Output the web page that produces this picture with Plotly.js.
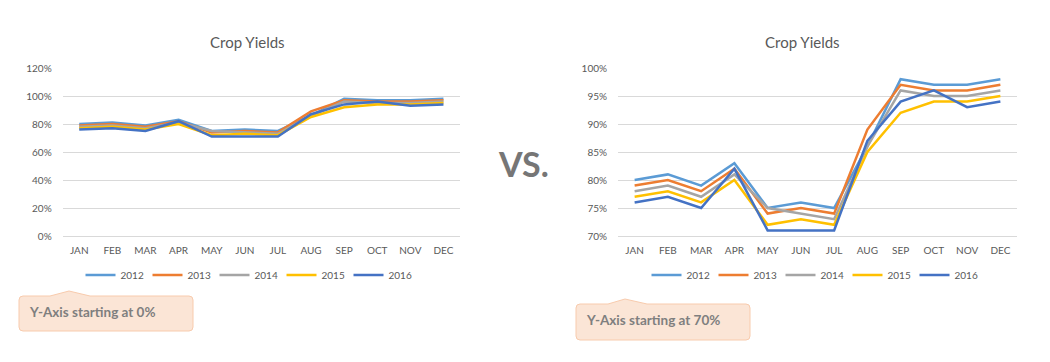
<!DOCTYPE html>
<html>
<head>
<meta charset="utf-8">
<script src="https://cdn.plot.ly/plotly-3.0.1.min.js"></script>
<style>
  html, body { margin: 0; padding: 0; background: #ffffff; }
  #chart { width: 1050px; height: 362px; }
</style>
</head>
<body>
<div id="chart"></div>
<script>
// ---- data ----
const months = ["JAN","FEB","MAR","APR","MAY","JUN","JUL","AUG","SEP","OCT","NOV","DEC"];
const years = ["2012","2013","2014","2015","2016"];
const y2012 = [0.80,0.81,0.79,0.83,0.75,0.76,0.75,0.86,0.98,0.97,0.97,0.98];
const y2013 = [0.79,0.80,0.78,0.82,0.74,0.75,0.74,0.89,0.97,0.96,0.96,0.97];
const y2014 = [0.78,0.79,0.77,0.81,0.75,0.74,0.73,0.86,0.96,0.95,0.95,0.96];
const y2015 = [0.77,0.78,0.76,0.80,0.72,0.73,0.72,0.85,0.92,0.94,0.94,0.95];
const y2016 = [0.76,0.77,0.75,0.82,0.71,0.71,0.71,0.87,0.94,0.96,0.93,0.94];
const leftTicks = [0,0.2,0.4,0.6,0.8,1.0,1.2];
const rightTicks = [0.70,0.75,0.80,0.85,0.90,0.95,1.00];
const chartTitle = "Crop Yields";
const leftNote = "Y-Axis starting at 0%";
const rightNote = "Y-Axis starting at 70%";
const vsText = "VS.";

// ---- styling ----
const colors = ["#5B9BD5","#ED7D31","#A5A5A5","#FFC000","#4472C4"];
const series = [y2012,y2013,y2014,y2015,y2016];
const W = 1050, H = 362;
const px = x => x / W;
const py = y => 1 - y / H;
const FONT = "Lato, 'Open Sans', sans-serif";
const TXT = "#595959";

const traces = [];
series.forEach((vals, i) => {
  traces.push({
    x: months, y: vals, name: years[i], type: "scatter", mode: "lines",
    xaxis: "x", yaxis: "y", legend: "legend",
    line: {color: colors[i], width: 2.5}
  });
});
series.forEach((vals, i) => {
  traces.push({
    x: months, y: vals, name: years[i], type: "scatter", mode: "lines",
    xaxis: "x2", yaxis: "y2", legend: "legend2",
    line: {color: colors[i], width: 2.5}
  });
});

function callout(x0, y0, x1, y1, nx0, npk, nx1, ny) {
  const r = 4;
  const P = (x, y) => px(x) + "," + py(y);
  return "M" + P(x0 + r, y0) +
    " L" + P(nx0, y0) + " L" + P(npk, ny) + " L" + P(nx1, y0) +
    " L" + P(x1 - r, y0) + " Q" + P(x1, y0) + " " + P(x1, y0 + r) +
    " L" + P(x1, y1 - r) + " Q" + P(x1, y1) + " " + P(x1 - r, y1) +
    " L" + P(x0 + r, y1) + " Q" + P(x0, y1) + " " + P(x0, y1 - r) +
    " L" + P(x0, y0 + r) + " Q" + P(x0, y0) + " " + P(x0 + r, y0) + " Z";
}

const xBase = {
  type: "category", range: [-0.5, 11.5], showgrid: false, zeroline: false,
  showline: true, linecolor: "#D9D9D9", linewidth: 1,
  ticks: "outside", ticklen: 5, tickcolor: "rgba(0,0,0,0)",
  tickfont: {family: FONT, size: 10, color: TXT}, fixedrange: true
};
const yBase = {
  showgrid: true, gridcolor: "#D9D9D9", gridwidth: 1, zeroline: false, showline: false,
  ticks: "outside", ticklen: 8, tickcolor: "rgba(0,0,0,0)",
  tickfont: {family: FONT, size: 10, color: TXT}, tickformat: ".0%", fixedrange: true,
  domain: [py(236), py(68)]
};
const legBase = {
  orientation: "h", yanchor: "middle", xanchor: "center", y: py(275),
  font: {family: FONT, size: 10, color: TXT}, bgcolor: "rgba(0,0,0,0)",
  entrywidth: 22, entrywidthmode: "pixels", itemwidth: 30
};

const layout = {
  width: W, height: H, margin: {l: 0, r: 0, t: 0, b: 0},
  paper_bgcolor: "#ffffff", plot_bgcolor: "#ffffff",
  showlegend: true,
  font: {family: FONT, color: TXT},
  xaxis: Object.assign({}, xBase, {domain: [px(62.7), px(460)], anchor: "y"}),
  yaxis: Object.assign({}, yBase, {range: [0, 1.2], tickvals: leftTicks, anchor: "x"}),
  xaxis2: Object.assign({}, xBase, {domain: [px(618), px(1017)], anchor: "y2"}),
  yaxis2: Object.assign({}, yBase, {range: [0.70, 1.00], tickvals: rightTicks, anchor: "x2"}),
  legend: Object.assign({}, legBase, {x: px(248)}),
  legend2: Object.assign({}, legBase, {x: px(814)}),
  shapes: [
    {type: "path", xref: "paper", yref: "paper", path: callout(19, 296, 193, 331, 50, 69, 90, 291),
     fillcolor: "#FBE5D6", line: {color: "#F8CBAD", width: 1}, layer: "below"},
    {type: "path", xref: "paper", yref: "paper", path: callout(576, 304, 750, 340, 608, 625, 647, 299),
     fillcolor: "#FBE5D6", line: {color: "#F8CBAD", width: 1}, layer: "below"}
  ],
  annotations: [
    {text: chartTitle, xref: "paper", yref: "paper", x: px(247), y: py(42), xanchor: "center", yanchor: "middle",
     showarrow: false, font: {family: FONT, size: 15, color: TXT}},
    {text: chartTitle, xref: "paper", yref: "paper", x: px(802), y: py(42), xanchor: "center", yanchor: "middle",
     showarrow: false, font: {family: FONT, size: 15, color: TXT}},
    {text: "<b>" + vsText + "</b>", xref: "paper", yref: "paper", x: px(523), y: py(163), xanchor: "center", yanchor: "middle",
     showarrow: false, font: {family: FONT, size: 34, color: "#767676"}},
    {text: "<b>" + leftNote + "</b>", xref: "paper", yref: "paper", x: px(27), y: py(312), xanchor: "left", yanchor: "middle",
     showarrow: false, font: {family: FONT, size: 13.5, color: "#7F7F7F"}},
    {text: "<b>" + rightNote + "</b>", xref: "paper", yref: "paper", x: px(584), y: py(320), xanchor: "left", yanchor: "middle",
     showarrow: false, font: {family: FONT, size: 13.5, color: "#7F7F7F"}}
  ]
};

Plotly.newPlot("chart", traces, layout, {staticPlot: true, displayModeBar: false});
</script>
</body>
</html>
